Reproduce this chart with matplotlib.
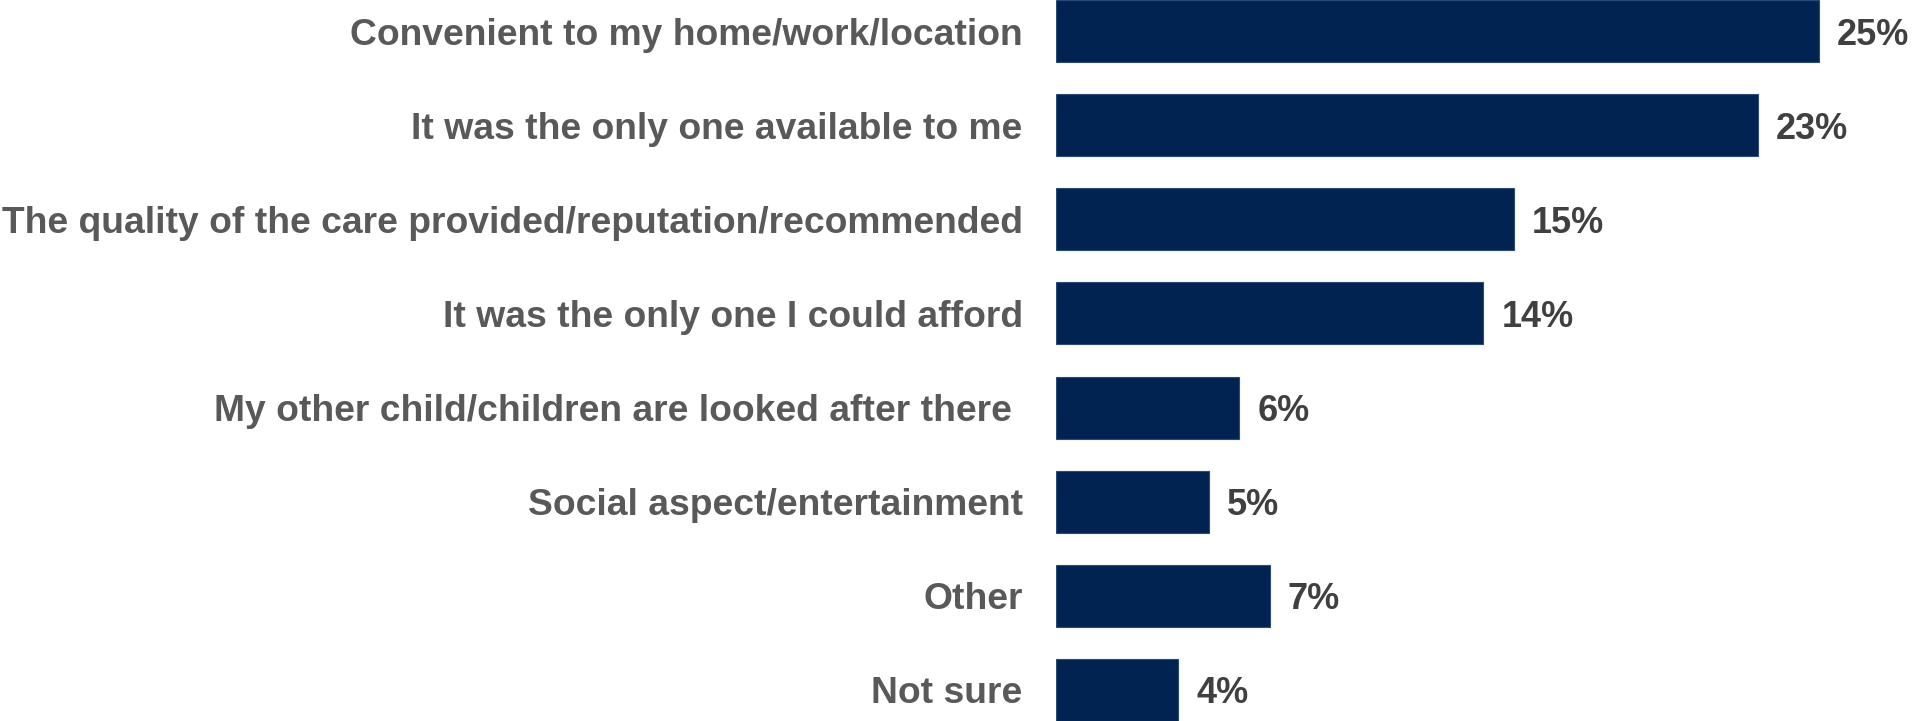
import matplotlib.pyplot as plt

plt.rcParams['font.family'] = ['Liberation Sans', 'DejaVu Sans']

# Gründe für die Wahl der Einrichtung
labels = [
    "Convenient to my home/work/location",
    "It was the only one available to me",
    "The quality of the care provided/reputation/recommended",
    "It was the only one I could afford",
    "My other child/children are looked after there ",
    "Social aspect/entertainment",
    "Other",
    "Not sure",
]
values = [25, 23, 15, 14, 6, 5, 7, 4]

fig = plt.figure(figsize=(19.13, 7.21), dpi=100)
ax = fig.add_axes([1056 / 1913, 0, 1 - 1056 / 1913, 1])

pos = list(range(len(labels)))
bar_h = 0.66
ax.barh(pos, values, height=bar_h, color='#002352', edgecolor='#2a4a78', linewidth=0.8)

for p, v in zip(pos, values):
    ax.text(v + 0.6, p, f"{v}%", va='center_baseline', ha='left', fontsize=26,
            fontweight='bold', color='#404040')

ax.set_yticks(pos)
ax.set_yticklabels(labels, fontsize=26.8, fontweight='bold', color='#595959')
ax.tick_params(axis='y', length=0, pad=24)
ax.set_xticks([])
ax.set_xlim(0, (1913 - 1056) / 30.5)
ax.set_ylim(len(labels) - 1 + bar_h / 2, -bar_h / 2)
for s in ax.spines.values():
    s.set_visible(False)

fig.savefig("out.png", dpi=100)
